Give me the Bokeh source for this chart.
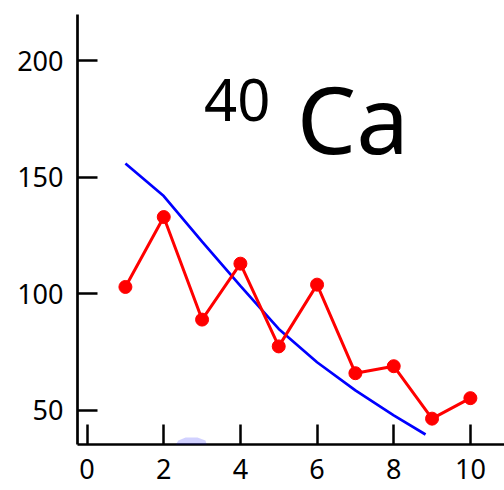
from bokeh.plotting import figure
from bokeh.models import Range1d, FixedTicker, Label, PolyAnnotation
from bokeh.embed import file_html
from bokeh.resources import INLINE

# data
x_meas = [1, 2, 3, 4, 5, 6, 7, 8, 9, 10]
y_meas = [103, 133, 89, 113, 77.5, 104, 66, 69, 46.5, 55.3]
x_fit = [1, 2, 3, 4, 5, 6, 7, 8, 8.83]
y_fit = [156, 142, 122.5, 103.5, 85, 70.7, 58.6, 47.9, 39.7]
x_ticks = [0, 2, 4, 6, 8, 10]
y_ticks = [50, 100, 150, 200]
title_mass = "40"
title_elem = "Ca"
# decorative blobs (data coords)
blob1_x = [2.38, 2.57, 2.88, 3.09, 3.14, 3.09, 2.96, 2.83, 2.75, 2.70, 1.90, 1.97, 2.04, 2.17, 2.28, 2.30]
blob1_y = [37.1, 38.4, 38.4, 37.1, 34.1, 29.4, 24.3, 20.0, 15.7, 5.0, 5.0, 15.7, 20.0, 25.1, 30.7, 35.0]
blob2_x = [8.15, 8.25, 8.38, 8.57, 8.83, 9.04, 9.22, 9.32, 9.40]
blob2_y = [5.0, 15.7, 19.1, 21.3, 22.1, 21.3, 18.7, 15.7, 5.0]

FONT = "Noto Sans"

p = figure(width=504, height=490, output_backend="svg", toolbar_location=None,
           x_range=Range1d(-0.25, 10.89), y_range=Range1d(35.41, 219.9),
           min_border_left=77, min_border_right=0, min_border_top=14, min_border_bottom=46)
p.outline_line_color = None
p.grid.visible = False
p.background_fill_color = "white"
p.border_fill_color = "white"

for ax in (p.xaxis[0], p.yaxis[0]):
    ax.axis_line_width = 2.7
    ax.axis_line_color = "black"
    ax.major_tick_line_width = 2.5
    ax.major_tick_line_color = "black"
    ax.major_tick_in = 20
    ax.major_tick_out = 0
    ax.minor_tick_line_color = None
    ax.major_label_text_font = FONT
    ax.major_label_text_font_size = "27px"
    ax.major_label_text_color = "black"

p.xaxis[0].ticker = FixedTicker(ticks=x_ticks)
p.yaxis[0].ticker = FixedTicker(ticks=y_ticks)
p.xaxis[0].major_label_standoff = 14
p.yaxis[0].major_label_standoff = 14

p.line(x_fit, y_fit, line_color="#0000ff", line_width=2.7)
p.line(x_meas, y_meas, line_color="#ff0000", line_width=3)
p.scatter(x_meas, y_meas, size=13, fill_color="#ff0000", line_color="#ff0000")

p.add_layout(Label(x=3.05, y=183.4, text=title_mass, text_font=FONT, text_font_size="58px",
                   text_color="black", text_baseline="middle"))
p.add_layout(Label(x=5.47, y=175.3, text=title_elem, text_font=FONT, text_font_size="94px",
                   text_color="black", text_baseline="middle"))

for bx, by in ((blob1_x, blob1_y), (blob2_x, blob2_y)):
    p.add_layout(PolyAnnotation(xs=bx, ys=by, fill_color="#0000ff", fill_alpha=0.18,
                                line_color=None, level="overlay"))

open("out.html", "w").write(file_html(p, INLINE))
